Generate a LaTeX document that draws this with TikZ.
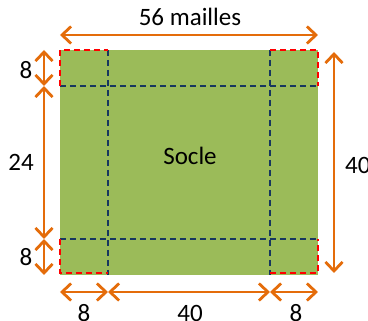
\documentclass[tikz,border=0pt]{standalone}
\usepackage{fontspec}
\setmainfont{Carlito}
\usetikzlibrary{arrows.meta,positioning}
\definecolor{soclegreen}{RGB}{155,187,89}
\definecolor{dimorange}{RGB}{228,108,10}
\definecolor{gridblue}{RGB}{23,55,94}

\begin{document}
\begin{tikzpicture}[x=1pt,y=-1pt,font=\fontsize{25}{28}\selectfont,
    dim/.style={draw=dimorange,line width=2.8pt,
      {Straight Barb[length=9pt,width=17pt]}-{Straight Barb[length=9pt,width=17pt]}},
    gridline/.style={draw=gridblue,line width=1.3pt,dash pattern=on 6pt off 4pt},
    corner/.style={draw=red,line width=1.3pt,dash pattern=on 6pt off 4pt},
    lbl/.style={inner sep=0pt}]
    \useasboundingbox (0,0) rectangle (368,321);

    % socle
    \fill[soclegreen] (60,50) rectangle (318,275);
    \coordinate (tl) at (60,50);
    \coordinate (br) at (318,275);
    \draw[gridline] (108,50) -- (108,275);
    \draw[gridline] (270,50) -- (270,275);
    \draw[gridline] (60,86) -- (318,86);
    \draw[gridline] (60,239) -- (318,239);
    \draw[corner] (60,86) -- (60,50) -- (108,50);
    \draw[corner] (270,50) -- (318,50) -- (318,86);
    \draw[corner] (60,239) -- (60,273) -- (108,273);
    \draw[corner] (270,273) -- (318,273) -- (318,239);
    \node (socle) at (190,156) {Socle};

    % cotes
    \coordinate (t1) at (60,35);
    \coordinate (t2) at (318,35);
    \coordinate (l1) at (44,50);
    \coordinate (l2) at (44,86);
    \coordinate (l3) at (44,239);
    \coordinate (l4) at (44,275);
    \coordinate (r1) at (334,52);
    \coordinate (r2) at (334,273);
    \coordinate (b1) at (60,292);
    \coordinate (b2) at (108,292);
    \coordinate (b3) at (270,292);
    \coordinate (b4) at (318,292);

    \draw[dim] (t1) -- (t2);
    \draw[dim] (l1) -- (l2);
    \draw[dim] (l2) -- (l3);
    \draw[dim] (l3) -- (l4);
    \draw[dim] (r1) -- (r2);
    \draw[dim] (b1) -- (b2);
    \draw[dim] (b2) -- (b3);
    \draw[dim] (b3) -- (b4);

    \node[lbl] (w) at (190,17) {56 mailles};
    \node[lbl] (ha) at (26,70) {8};
    \node[lbl] (hb) at (21,162) {24};
    \node[lbl] (hc) at (26,257) {8};
    \node[lbl,anchor=west] (hr) at (345,165) {40};
    \node[lbl] (wa) at (84,313) {8};
    \node[lbl] (wb) at (190,313) {40};
    \node[lbl] (wc) at (296,313) {8};
\end{tikzpicture}
\end{document}
